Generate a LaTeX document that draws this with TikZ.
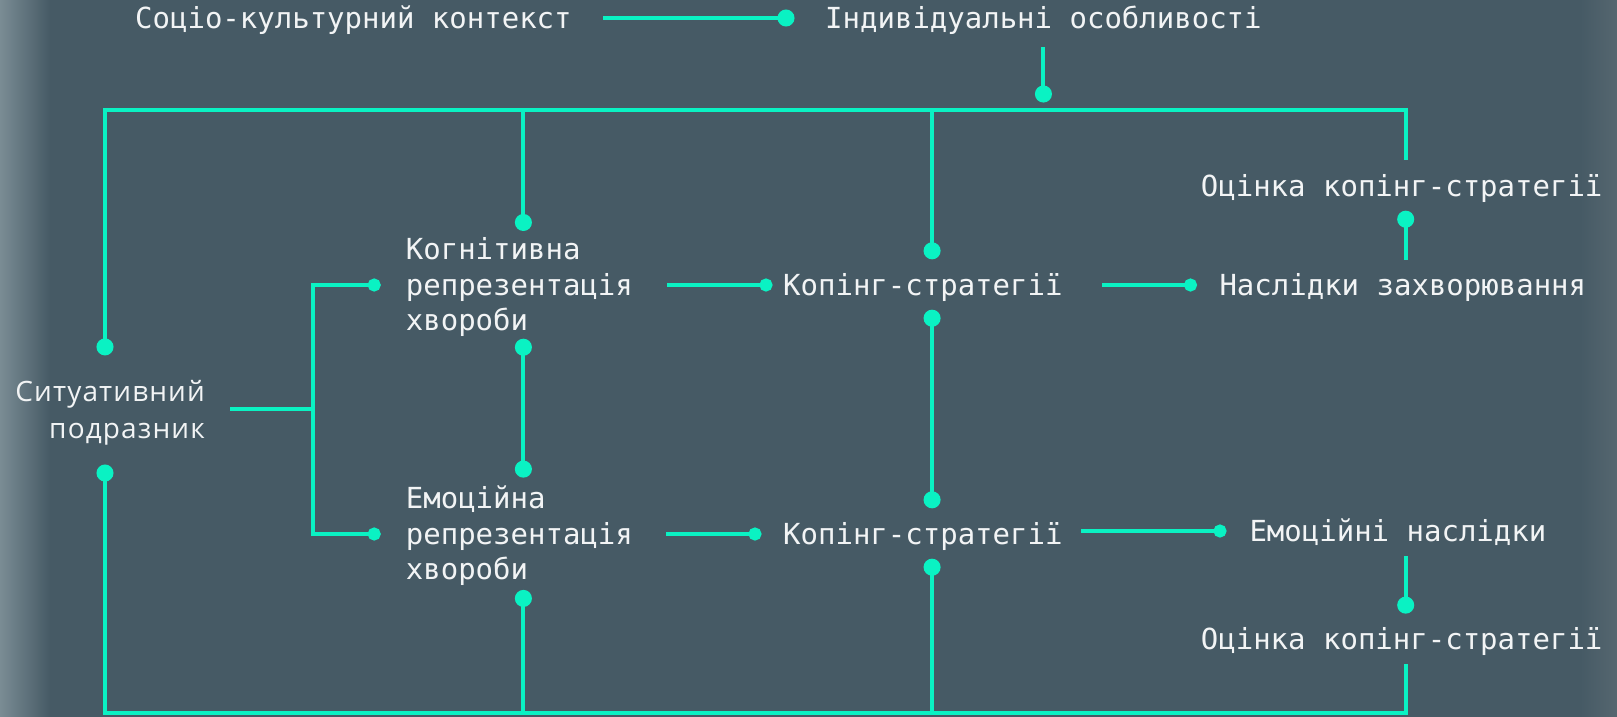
\documentclass[tikz,border=0pt]{standalone}
\usepackage{fontspec}
\usetikzlibrary{arrows.meta}
\newfontfamily\diagmono{DejaVu Sans Mono}
\newfontfamily\diagsans{Open Sans}[LetterSpace=4]
\definecolor{slate}{HTML}{465A65}
\definecolor{slateedge}{HTML}{7C8E96}
\definecolor{slateright}{HTML}{566770}
\definecolor{mint}{HTML}{0AF2C3}
\definecolor{chalk}{HTML}{F2F4F5}

\begin{document}
\begin{tikzpicture}
  [x=1pt,y=-1pt,>={Circle[length=17pt]},
   lbl/.style={text=chalk,inner sep=0pt,font=\diagmono\fontsize{29}{35.5}\selectfont},
   one/.style={lbl,text height=25pt,text depth=5pt,anchor=base west},
   wire/.style={draw=mint,line width=4pt},
   small/.style={>={Circle[length=13pt]}}]
  % background
  \useasboundingbox (0,0) rectangle (1617,716);
  \clip (0,0) rectangle (1617,716);
  \fill[slate] (-2,-2) rectangle (1619,718);
  \shade[left color=slateedge,right color=slate] (-2,-2) rectangle (50,718);
  \shade[left color=slate,right color=slateright] (1580,-2) rectangle (1619,718);

  \node[one] (soc) at (135,28) {Соціо-культурний контекст};
  \node[one] (ind) at (825,28) {Індивідуальні особливості};
  \node[one] (ots1) at (1200.7,196) {Оцінка копінг-стратегії};
  \node[lbl,align=left,anchor=west] (kog) at (405.7,287) {Когнітивна\\репрезентація\\хвороби};
  \node[one] (kop1) at (783,295) {Копінг-стратегії};
  \node[one] (nas) at (1219.3,295) {Наслідки захворювання};
  \node[lbl,align=left,anchor=west] (emo) at (405.7,536) {Емоційна\\репрезентація\\хвороби};
  \node[one] (kop2) at (783,544) {Копінг-стратегії};
  \node[one] (emn) at (1249.3,541) {Емоційні наслідки};
  \node[one] (ots2) at (1200.7,649.3) {Оцінка копінг-стратегії};
  \node[lbl,font=\diagsans\fontsize{28}{36.3}\selectfont,align=right,anchor=east] (sit) at (205,412.7) {Ситуативний\\подразник};

  \coordinate (tl) at (105,110);
  \coordinate (tr) at (1405.7,110);
  \coordinate (bl) at (105,712.7);
  \coordinate (br) at (313,409.3);

  % top
  \draw[wire,->,shorten <=31.5pt,shorten >=30.5pt] (soc.east) -- (ind.west);
  \draw[wire,->,shorten <=14pt,shorten >=7.5pt] (ind.south) -- (ind.south |- tl);
  \draw[wire,->,shorten <=11pt,shorten >=25pt] (tr |- ots1.north) -- (tr) -- (tl) -- (tl |- sit.north);
  \draw[wire,->] ([xshift=4pt]kog.north |- tl) -- ([xshift=4pt,yshift=6.3pt]kog.north);
  \draw[wire,->] ([xshift=9.2pt]kop1.north |- tl) -- ([xshift=9.2pt,yshift=10.5pt]kop1.north);

  % stimulus
  \draw[wire] ([xshift=25pt]sit.east |- br) -- (br);
  \draw[wire,small,->,shorten >=25pt] (br) |- (kog.west |- kop1.west);
  \draw[wire,small,->,shorten >=25pt] (br) |- (emo.west |- kop2.west);

  % rows
  \foreach \from/\to/\s/\t in {kog/kop1/34pt/10.5pt,kop1/nas/39.6pt/22.3pt,emo/kop2/33.4pt/21.5pt,kop2/emn/18.7pt/22.8pt}
    \draw[wire,small,->,shorten <=\s,shorten >=\t] (\from.east |- \to.west) -- (\to.west);

  % columns
  \draw[wire,->,shorten <=10pt,shorten >=9.5pt] (tr |- nas.north) -- (tr |- ots1.south);
  \draw[wire,<->,shorten <=2pt,shorten >=8.3pt] ([xshift=4pt]kog.south) -- ([xshift=4pt]emo.north);
  \draw[wire,<->,shorten <=9.5pt,shorten >=10.5pt] ([xshift=9.2pt]kop1.south) -- ([xshift=9.2pt]kop2.north);
  \draw[wire,->,shorten <=10pt,shorten >=10.5pt] (tr |- emn.south) -- (tr |- ots2.north);

  % bottom
  \draw[wire,->,shorten <=9.7pt,shorten >=19.5pt] (tr |- ots2.south) -- (tr |- bl) -- (bl) -- (bl |- sit.south);
  \draw[wire,<-,shorten <=3.8pt] ([xshift=4pt]emo.south) -- ([xshift=4pt]emo.south |- bl);
  \draw[wire,<-,shorten <=9.5pt] ([xshift=9.2pt]kop2.south) -- ([xshift=9.2pt]kop2.south |- bl);
\end{tikzpicture}
\end{document}
